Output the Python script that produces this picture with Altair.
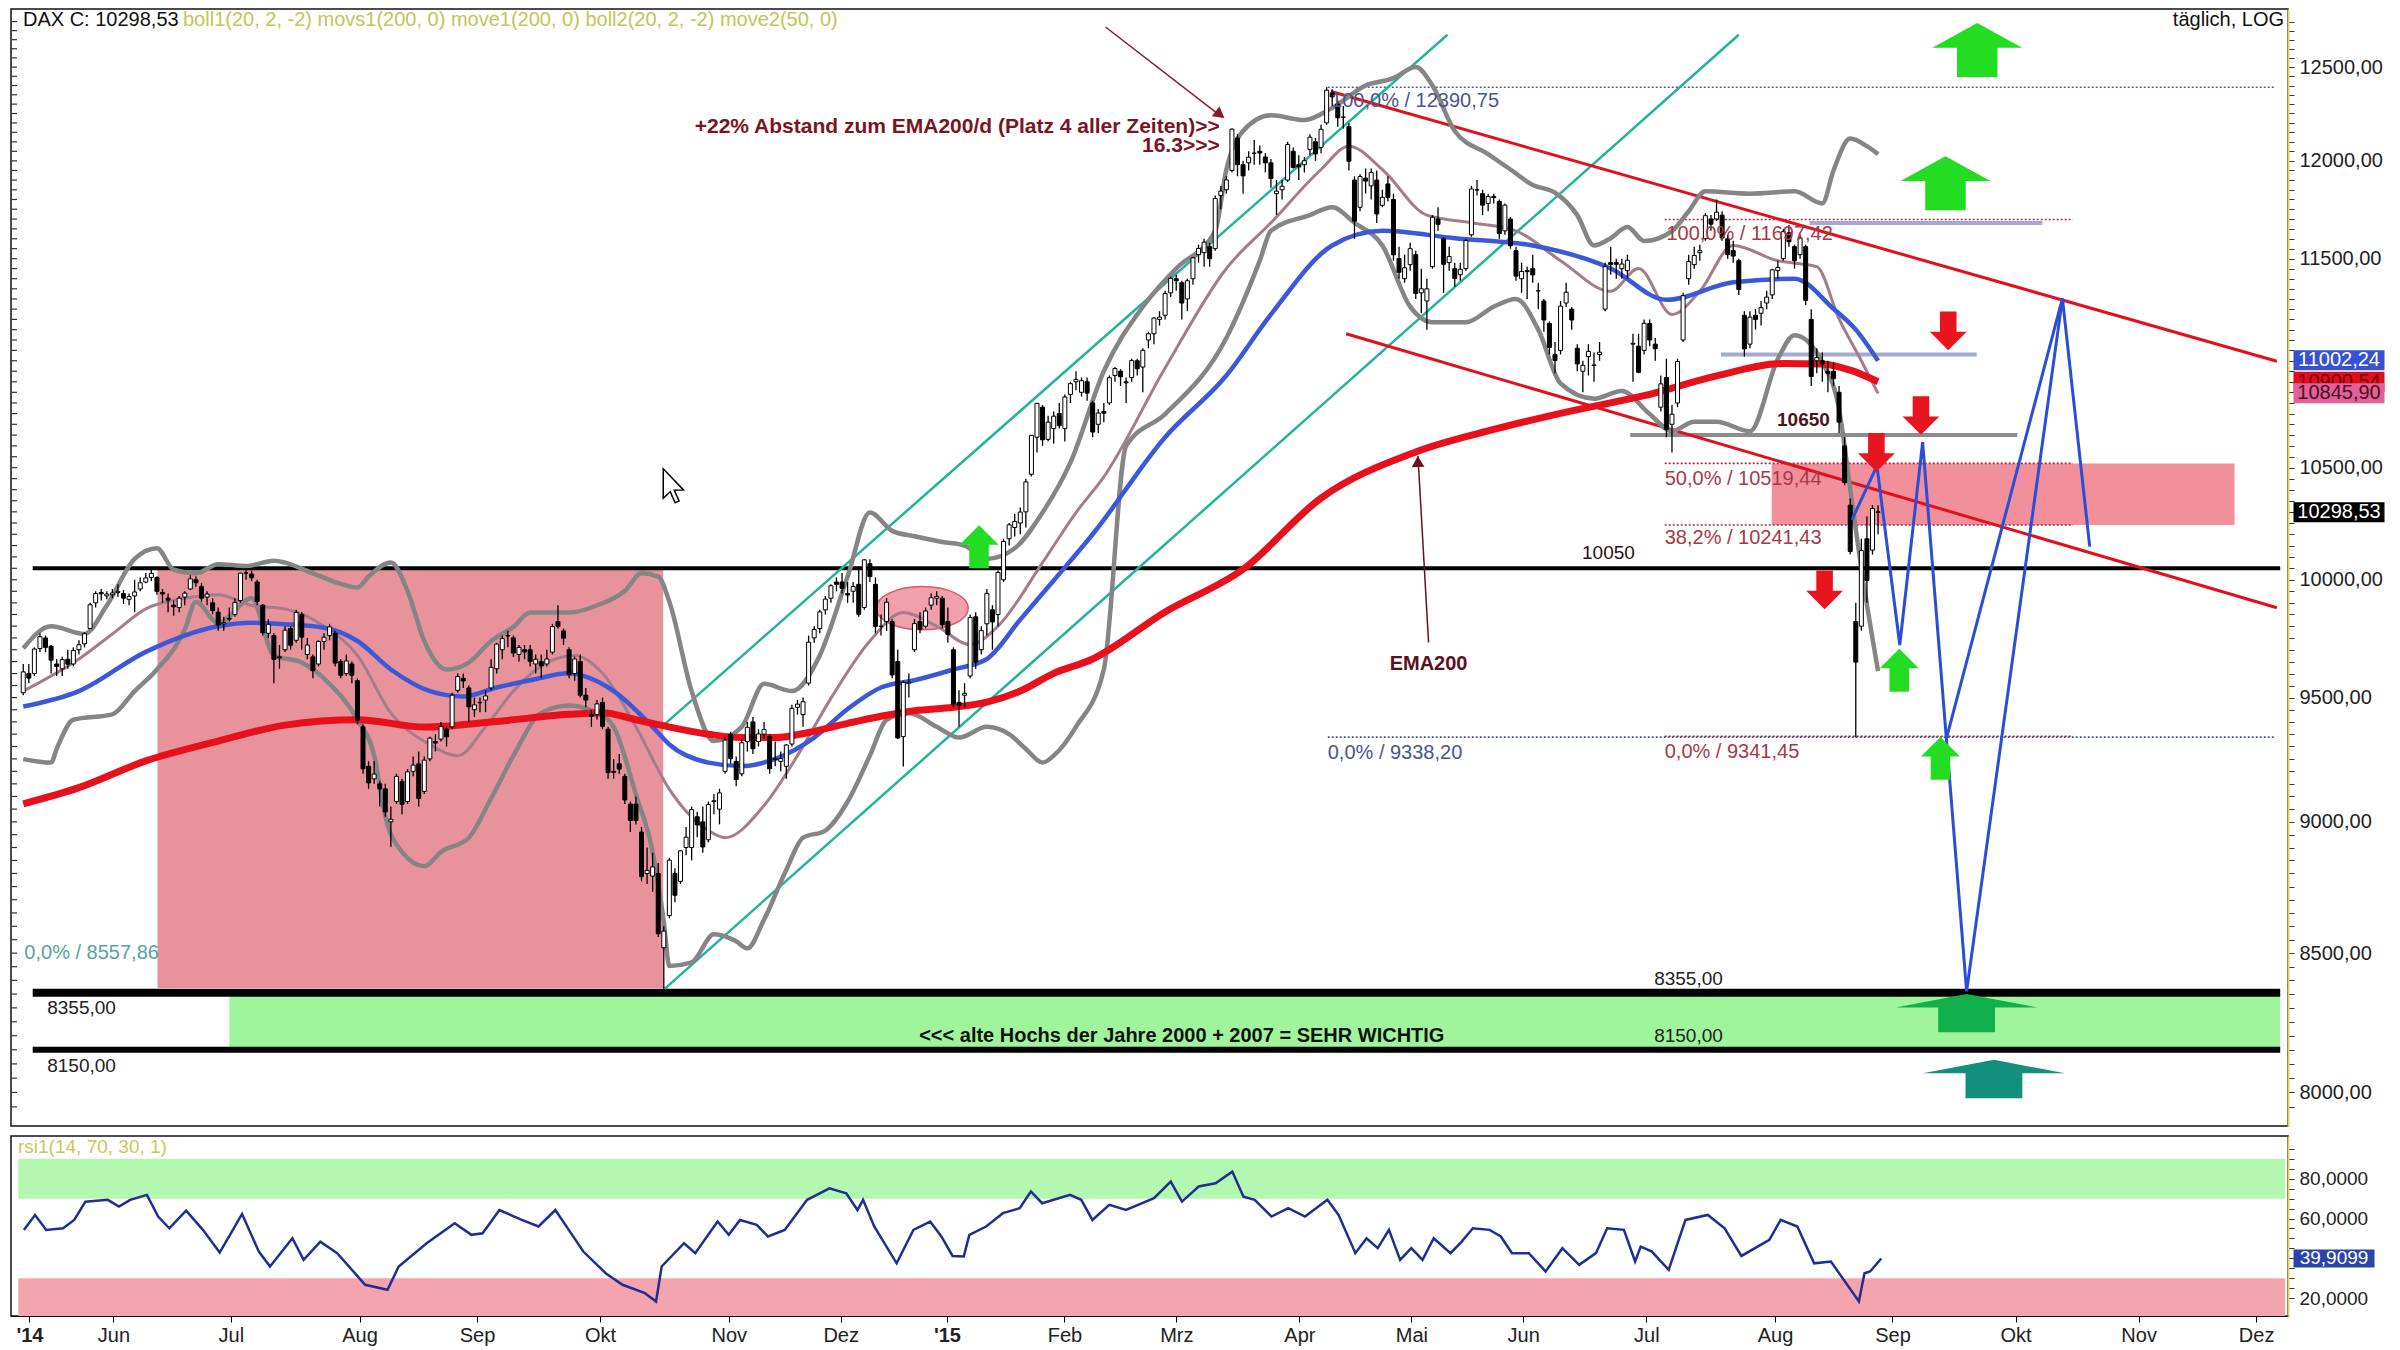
import json
import altair as alt
import pandas as pd

# ---------------- values ----------------
# daily candles, 8 May 2014 .. 28 Aug 2015 (trading-day index 0..333)
OPEN = [
 9520,9600,9600,9705,9750,9715,9640,9620,9660,9640,9700,9725,9790,9900,9945,9930,9935,
 9945,9940,9915,9930,9960,9990,10010,10010,9945,9920,9890,9880,9925,9960,10000,9970,9925,9900,9860,9810,9830,
 9850,9910,10030,10025,9990,9890,9770,9760,9670,9700,9790,9740,9850,9680,9670,9640,9735,9760,9770,9650,9600,9640,9570,
 9380,9220,9170,9150,9130,9000,9080,9160,9080,9200,9230,9120,9250,9320,9330,9370,9380,9530,9580,9540,9450,
 9480,9490,9540,9620,9700,9760,9750,9680,9700,9700,9640,9650,9640,9690,9820,9780,9700,9600,9650,9510,9430,9430,
 9480,9370,9200,9230,9180,9070,9070,8960,8800,8790,8800,8520,8640,8800,8770,8900,8900,9020,9000,8930,9080,9050,9200,
 9350,9240,9190,9320,9400,9320,9350,9340,9250,9240,9220,9310,9460,9430,9560,9750,9790,9870,9920,9990,
 9990,9940,9950,9980,9880,10070,9980,9800,9820,9820,9650,9340,9560,9700,9820,9800,9890,9920,9920,
 9820,9700,9480,9510,9590,9840,9700,9810,9870,9850,10000,10180,10230,10250,10300,10470,10640,10780,10630,10680,10750,
 10680,10840,10900,10850,10900,10800,10700,10760,10800,10930,10950,10900,10920,11000,10970,11100,11130,11200,11220,11330,
 11400,11380,11300,11400,11520,11530,11560,11550,11820,11850,11950,12120,11980,11990,12040,12050,12020,11990,11830,11850,11900,12050,
 11980,11980,12060,12100,12070,12200,12360,12300,12230,12180,11900,11760,11910,11870,11900,11770,11880,11800,11500,11400,
 11470,11520,11330,11290,11460,11700,11600,11480,11450,11420,11450,11620,11850,11830,11780,11815,11790,11640,11700,11540,
 11400,11440,11450,11340,11290,11180,11030,11050,11280,11250,11060,10950,11020,10980,11030,11250,11480,11480,11450,11440,11080,11070,
 11050,11180,11080,10780,10920,10700,10800,11100,11400,11470,11530,11600,11700,11700,11720,11600,11540,11490,11220,11080,11220,11230,11280,
 11320,11440,11500,11630,11560,11520,11560,11200,11000,11000,10950,10950,10850,10600,10330,9820,9800,10180,10130,10300]
HIGH = [
 9640,9640,9710,9770,9760,9720,9660,9670,9700,9710,9740,9775,9900,9950,9960,9950,9960,
 9980,9955,9940,10000,10010,10030,10050,10015,9960,9940,9910,9930,9950,10020,10015,9985,9950,9920,9880,9840,9880,
 9920,10030,10051,10040,10000,9895,9830,9770,9720,9800,9800,9870,9860,9750,9680,9740,9770,9810,9780,9660,9680,9650,9580,
 9390,9240,9240,9160,9150,9060,9190,9170,9210,9260,9280,9260,9340,9350,9400,9380,9520,9600,9600,9550,9500,
 9500,9530,9660,9730,9760,9780,9760,9720,9720,9720,9680,9680,9700,9810,9890,9790,9710,9670,9680,9540,9450,9490,
 9500,9380,9250,9270,9190,9080,9100,8980,8900,8880,8840,8600,8860,8820,8890,8980,9060,9040,9060,9080,9110,9130,9340,
 9360,9260,9330,9400,9420,9370,9400,9350,9320,9280,9310,9470,9490,9500,9760,9800,9870,9930,9980,10010,
 10030,9990,9990,10060,10090,10090,10010,9850,9920,9830,9700,9570,9600,9830,9860,9880,9940,9950,9930,
 9880,9710,9530,9560,9850,9860,9800,9960,9890,10040,10180,10250,10290,10320,10450,10650,10800,10790,10740,10760,10800,
 10840,10900,10950,10920,10920,10810,10770,10800,10930,10970,10960,10920,11010,11010,11060,11140,11210,11240,11340,11410,
 11420,11390,11400,11510,11570,11600,11580,11820,11870,11920,12170,12140,12000,12050,12110,12080,12040,12010,11900,11900,12100,12070,
 12030,12020,12140,12120,12190,12391,12380,12320,12290,12200,11920,11930,11960,11960,11950,11850,11920,11830,11560,11520,
 11580,11540,11450,11400,11720,11760,11610,11560,11480,11480,11600,11870,11900,11850,11830,11830,11800,11780,11710,11560,
 11480,11460,11520,11380,11300,11190,11090,11290,11380,11260,11080,11000,11080,11040,11090,11480,11560,11500,11500,11520,11130,11130,
 11200,11200,11110,10930,11010,10790,11010,11330,11520,11560,11570,11730,11720,11800,11740,11620,11590,11500,11240,11240,11250,11290,11340,
 11450,11490,11650,11670,11570,11620,11570,11250,11060,11040,11000,10990,10880,10640,10360,9900,10180,10280,10330,10330]
LOW = [
 9510,9560,9590,9690,9690,9600,9590,9590,9620,9630,9680,9710,9790,9880,9910,9915,9920,
 9925,9895,9890,9860,9950,9985,9995,9935,9900,9860,9845,9860,9890,9955,9970,9905,9890,9850,9780,9780,9820,
 9840,9900,10000,9995,9890,9760,9750,9560,9620,9690,9700,9730,9700,9660,9580,9630,9700,9740,9630,9580,9590,9560,9390,
 9190,9130,9150,9060,9020,8903,9070,9030,9070,9180,9060,9110,9240,9280,9320,9300,9370,9520,9540,9400,9420,
 9440,9440,9530,9600,9660,9710,9670,9650,9660,9630,9600,9580,9630,9680,9790,9720,9580,9570,9500,9460,9380,9410,
 9370,9170,9170,9190,9070,8960,8990,8770,8760,8730,8560,8355,8630,8690,8760,8870,8850,8940,8880,8920,9030,8990,9190,
 9230,9140,9180,9280,9270,9300,9330,9190,9220,9200,9170,9300,9430,9380,9550,9730,9770,9850,9900,9950,
 9940,9900,9900,9840,9870,9990,9770,9760,9780,9580,9330,9219,9500,9690,9770,9790,9870,9890,9790,
 9730,9460,9380,9460,9580,9620,9680,9760,9700,9800,9990,10150,10190,10200,10230,10460,10570,10600,10620,10610,10680,
 10620,10800,10860,10830,10810,10640,10660,10710,10790,10900,10880,10800,10900,10930,10850,11060,11080,11170,11200,11310,
 11340,11200,11240,11370,11480,11460,11460,11540,11750,11830,11940,11920,11830,11950,11980,11980,11940,11860,11720,11800,11890,11960,
 11900,11940,12030,12000,12040,12190,12290,12180,12170,11950,11600,11740,11830,11800,11680,11760,11790,11490,11400,11380,
 11440,11300,11230,11150,11450,11640,11330,11440,11360,11390,11440,11610,11820,11720,11740,11780,11600,11620,11550,11390,
 11330,11300,11380,11250,11140,11030,10940,11030,11260,11150,10950,10850,10930,10900,11000,11240,11420,11400,11400,11400,10900,10940,
 11030,11070,11000,10760,10640,10570,10780,11090,11370,11450,11490,11590,11640,11690,11590,11500,11480,11320,11020,11060,11150,11170,11250,
 11300,11400,11490,11560,11450,11500,11270,10880,10940,10900,10850,10880,10660,10420,10110,9338,9780,9900,10110,10200]
CLOSE = [
 9607,9581,9703,9755,9710,9656,9630,9659,9639,9697,9721,9768,9892,9940,9939,9938,9943,
 9950,9920,9927,9947,9987,10008,10028,9950,9938,9912,9883,9920,9942,10004,9987,9920,9938,9867,9805,9815,9833,
 9902,10029,10029,10009,9906,9772,9808,9659,9666,9783,9719,9859,9753,9720,9612,9735,9753,9797,9644,9593,9653,9593,9407,
 9210,9154,9189,9130,9039,9010,9180,9069,9198,9225,9092,9245,9334,9314,9381,9339,9510,9588,9569,9462,9470,
 9479,9507,9626,9724,9747,9758,9686,9710,9691,9651,9660,9632,9661,9798,9799,9749,9595,9661,9510,9490,9422,9474,
 9382,9195,9196,9209,9086,9005,9005,8788,8812,8825,8572,8582,8851,8717,8887,8940,9048,8988,8902,9068,9083,9114,9326,
 9251,9167,9315,9378,9291,9351,9369,9210,9248,9252,9306,9456,9473,9483,9732,9786,9861,9916,9974,9980,
 9963,9934,9971,9851,10087,10014,9799,9799,9903,9594,9335,9563,9564,9811,9787,9865,9922,9928,9806,
 9765,9473,9469,9518,9837,9648,9781,9941,9818,10032,10168,10242,10257,10299,10435,10649,10798,10628,10710,10738,10694,
 10828,10891,10911,10905,10846,10664,10753,10752,10919,10963,10924,10895,11001,10962,11050,11130,11206,11211,11327,11402,
 11390,11280,11390,11504,11551,11583,11500,11805,11843,11901,12167,11980,11922,12019,12040,12041,11990,11908,11843,11868,12086,11966,
 11968,12001,12124,12036,12166,12375,12339,12227,12231,11998,11689,11918,11895,11939,11726,11811,11811,11519,11432,11454,
 11550,11327,11350,11350,11709,11673,11472,11511,11401,11447,11591,11854,11849,11771,11815,11810,11626,11771,11565,11413,
 11436,11435,11419,11340,11197,11064,11001,11265,11333,11197,10985,10978,11045,10978,11041,11460,11471,11472,11473,11492,11084,10945,
 11181,11100,11058,10890,10676,10747,10997,11316,11485,11516,11540,11717,11674,11735,11604,11520,11513,11347,11057,11211,11199,11257,11309,
 11444,11456,11636,11585,11490,11604,11293,10925,11015,10985,10940,10915,10710,10432,10124,9648,10128,9997,10315,10298]

# indicator lines (trading-day index, value)
EMA200_X = [0,10,22,35,47,60,72,85,98,104,110,116,123,129,135,141,148,154,160,167,173,179,185,192,205,219,233,250,264,278,291,304,316,323,328,333]
EMA200_V = [9071,9135,9242,9322,9387,9409,9379,9402,9431,9438,9409,9379,9350,9336,9336,9357,9394,9423,9446,9460,9481,9527,9601,9661,9861,10046,10362,10572,10676,10763,10834,10928,10987,10985,10955,10900]
EMA50_X = [0,10,22,35,41,47,54,60,66,73,79,85,91,98,101,106,113,116,123,129,135,142,148,154,160,167,173,179,185,192,205,216,224,235,244,257,271,285,295,307,318,325,329,333]
EMA50_V = [9463,9527,9691,9800,9815,9808,9793,9737,9617,9527,9505,9542,9572,9601,9587,9527,9380,9308,9235,9221,9250,9336,9453,9542,9572,9617,9661,9828,9997,10200,10640,10930,11224,11566,11640,11603,11566,11451,11296,11382,11400,11252,11150,11000]
SMA20_X = [0,10,16,22,29,35,41,47,54,60,66,73,78,83,88,94,99,104,110,116,123,126,133,139,145,152,158,164,170,175,183,189,194,205,216,224,233,238,244,252,260,268,276,285,290,296,301,307,315,318,322,326,330,333]
SMA20_V = [9527,9661,9767,9874,9920,9935,9889,9874,9800,9676,9437,9308,9263,9380,9527,9646,9676,9601,9380,9128,8966,8938,9064,9263,9497,9737,9858,9800,9722,9800,10075,10297,10458,10965,11451,11681,11955,12077,11955,11720,11681,11640,11490,11338,11451,11224,11338,11566,11490,11478,11460,11202,11000,10845]
BBU_X = [0,5,11,15,20,24,27,31,35,40,45,47,52,57,60,62,66,69,72,76,80,84,88,91,98,103,108,111,114,116,120,124,129,133,138,143,148,152,156,160,165,169,173,178,183,188,194,201,207,214,216,219,224,230,235,241,246,250,253,257,263,267,271,275,279,282,285,288,291,296,299,302,310,318,323,325,328,331,333]
BBU_V = [9706,9800,9767,9889,10091,10138,10044,10028,10068,10060,10083,10075,10028,9982,9966,10014,10075,9951,9737,9617,9646,9737,9797,9858,9858,9889,9951,10028,10014,9905,9527,9322,9380,9557,9527,9676,10014,10297,10215,10191,10166,10150,10091,10138,10297,10523,10950,11262,11451,11640,11955,12157,12240,12215,12280,12400,12440,12500,12400,12157,12035,11955,11875,11835,11720,11566,11603,11659,11589,11639,11740,11842,11830,11842,11780,11950,12117,12077,12035]
BBL_X = [0,5,6,9,16,20,24,29,31,35,41,45,50,55,60,63,65,68,72,75,80,84,88,93,98,103,106,110,113,115,116,120,124,128,130,133,137,140,144,148,152,155,159,164,168,173,177,180,183,185,189,194,198,205,216,222,224,231,235,239,244,249,253,259,264,268,272,276,282,287,292,296,300,304,310,315,318,323,326,328,330,333]
BBL_V = [9249,9235,9290,9409,9431,9527,9617,9785,9905,9813,9920,9676,9646,9557,9409,9263,9022,8883,8828,8883,8938,9093,9263,9437,9467,9437,9380,9107,8883,8617,8453,8466,8570,8544,8518,8625,8814,8938,8966,9079,9263,9409,9437,9380,9336,9380,9350,9290,9235,9263,9380,9617,10600,10748,11110,11490,11640,11720,11760,11681,11566,11262,11186,11186,11262,11300,11150,10892,10820,10856,10748,10668,10712,10712,10668,11008,11123,10992,10770,10403,10048,9610]
RSI_X = [1,3,5,8,10,12,16,18,20,23,25,27,30,33,36,38,40,43,45,49,51,54,57,62,66,68,73,78,81,83,86,90,93,96,99,101,105,108,112,114,115,119,121,125,127,129,132,134,137,141,145,148,150,151,153,157,160,163,165,167,169,170,173,176,179,181,183,188,190,192,195,198,203,206,208,211,214,217,219,221,224,227,230,234,236,239,241,243,245,247,249,251,253,256,258,260,263,265,267,270,273,276,279,282,284,287,289,290,292,295,298,302,305,308,313,315,318,321,324,329,330,331,333]
RSI_V = [54.3,61.8,54.3,55.1,59.3,68.5,69.4,66,69.4,71.9,61,55.1,64,54.3,42.9,52.6,62.3,43.4,35.9,50.1,39.2,48.4,42.6,26.7,24.2,35.9,47.6,57.6,51.8,52.6,64.3,59.3,56,64.3,51.8,43.4,32.5,26.7,22.5,18.3,35.9,47.6,42.6,58.5,51.8,59.3,56.8,51,54.3,69.4,75.2,72.7,64.3,69.4,56,37.5,54.3,58.5,51,41.2,40.9,51.8,56,62.7,65.2,73.6,67.7,71.9,69.4,59.3,66.9,64.3,70.2,78.6,68.5,76.1,77.7,83.6,71,69.4,61,65.2,61,69.4,61.8,42.6,50.1,45.1,54.3,39.2,45.1,39.2,50.1,42.6,48.4,55.1,54.3,51,42.6,42.6,33.4,45.1,36.7,42.6,55.1,54.3,38.4,45.9,43.4,34.2,59.3,61.8,55.1,41.2,49.3,59.3,56,37.5,38.4,18.3,32.5,33.4,39.9]

# drawn projection (blue zig-zag)
ZIGZAG_X = [328.3, 332.8, 336.9, 341.0, 348.9, 366.1, 371.0]
ZIGZAG_V = [10264, 10508, 9720, 10617, 8360, 11303, 10145]
ZIGZAG2_X = [345.3, 366.1]
ZIGZAG2_V = [9335, 11303]

# horizontal levels
FIB_MAIN = [12390.75, 9338.20]
FIB_AUG = [11697.42, 10519.44, 10241.43, 9341.45]
SUPPORT = [10050, 8355, 8150]
LAST_VALUES = [11002.24, 10900.54, 10845.90, 10298.53]
RSI_LAST = 39.9099

HOLIDAYS = ["2014-12-24", "2014-12-25", "2014-12-26", "2014-12-31", "2015-01-01",
            "2015-04-03", "2015-04-06", "2015-05-01", "2015-12-24", "2015-12-25"]
MONTHS = {1: "'15", 2: "Feb", 3: "Mrz", 4: "Apr", 5: "Mai", 6: "Jun", 7: "Jul",
          8: "Aug", 9: "Sep", 10: "Okt", 11: "Nov", 12: "Dez"}

# ---------------- trading calendar / axis ticks ----------------
cal = pd.bdate_range("2014-05-08", "2015-12-11")
cal = cal[~cal.isin(pd.to_datetime(HOLIDAYS))]
TICK_IDX, TICK_LAB = [2], ["'14"]
for k in range(1, len(cal)):
    if cal[k].month != cal[k - 1].month:
        TICK_IDX.append(int(k))
        TICK_LAB.append(MONTHS[cal[k].month])
YEAR_TICKS = [TICK_IDX[0]] + [TICK_IDX[j] for j, t in enumerate(TICK_LAB) if t == "'15"]

# ---------------- layout ----------------
W, H1, H2 = 2277, 1117, 180
FONT = "Liberation Sans"
XS = alt.Scale(domain=[-1.3, 405.7], nice=False, zero=False)
YS = alt.Scale(type="log", domain=[7884, 12820], nice=False)
RS = alt.Scale(domain=[11, 101.5], nice=False, zero=False)
Y_TICKS = list(range(7950, 12751, 50))

YAX = alt.Axis(orient="right", values=Y_TICKS, grid=False,
               labelExpr="datum.value % 500 == 0 && datum.value != 11000 ? replace(format(datum.value, '.2f'), '.', ',') : ''",
               tickSize=6, labelPadding=5, tickColor="#333333", domainColor="#e4d064", domainWidth=2,
               labelFontSize=20, labelColor="#222222", labelFont=FONT, labelOverlap=False, zindex=0, title=None)
RAX = alt.Axis(orient="right", values=list(range(20, 100, 5)), grid=False,
               labelExpr="datum.value % 20 == 0 ? replace(format(datum.value, '.4f'), '.', ',') : ''",
               tickSize=6, labelPadding=5, tickColor="#333333", domainColor="#e4d064", domainWidth=2,
               labelFontSize=19, labelColor="#222222", labelFont=FONT, labelOverlap=False, zindex=0, title=None)
XAX = alt.Axis(values=TICK_IDX, grid=False,
               labelExpr=f"{json.dumps(TICK_LAB)}[indexof({json.dumps(TICK_IDX)}, datum.value)]",
               tickSize=6, labelPadding=3, labelFontSize=20, labelColor="#222222", labelFont=FONT,
               tickColor="#000000", domainColor="#000000", labelOverlap=False,
               labelFontWeight={"condition": {"test": " || ".join(f"datum.value == {t}" for t in YEAR_TICKS),
                                               "value": "bold"}, "value": "normal"},
               title=None)


def X(f="i"):
    return alt.X(f"{f}:Q", scale=XS, axis=None, title=None)


def Y(f="v"):
    return alt.Y(f"{f}:Q", scale=YS, axis=YAX, title=None)


def segs(rows, color, width, dash=None, opacity=1.0):
    df = pd.DataFrame(rows, columns=["i", "v", "i2", "v2"])
    kw = dict(color=color, strokeWidth=width, opacity=opacity)
    if dash:
        kw["strokeDash"] = dash
    return alt.Chart(df).mark_rule(**kw).encode(x=X(), y=Y(), x2="i2:Q", y2="v2:Q")


def rects(rows, color, opacity=1.0):
    df = pd.DataFrame(rows, columns=["i", "v", "i2", "v2"])
    return alt.Chart(df).mark_rect(color=color, opacity=opacity).encode(x=X(), y=Y(), x2="i2:Q", y2="v2:Q")


def line(xs, vs, color, width, interp="monotone"):
    df = pd.DataFrame({"i": xs, "v": vs, "o": range(len(xs))})
    return alt.Chart(df).mark_line(color=color, strokeWidth=width, interpolate=interp).encode(
        x=X(), y=Y(), order="o:Q")


def pts(rows, shape, size, color, filled=True, sw=0.0, opacity=1.0, **kw):
    df = pd.DataFrame(rows, columns=["i", "v"])
    return alt.Chart(df).mark_point(shape=shape, size=size, filled=filled, color=color,
                                    strokeWidth=sw, opacity=opacity, **kw).encode(x=X(), y=Y())


def txt(i, v, s, color, size, weight="normal", align="left", baseline="middle"):
    df = pd.DataFrame({"i": [i], "v": [v], "t": [s]})
    return alt.Chart(df).mark_text(align=align, baseline=baseline, fontSize=size, fontWeight=weight,
                                   color=color, font=FONT).encode(x=X(), y=Y(), text="t:N")


UP_SMALL = "M0,-1.1L1,-0.1L0.5,-0.1L0.5,1.1L-0.5,1.1L-0.5,-0.1L-1,-0.1Z"
DOWN_SMALL = "M0,1.05L1,0.05L0.45,0.05L0.45,-1.05L-0.45,-1.05L-0.45,0.05L-1,0.05Z"
UP_BIG = "M0,-0.6L1,-0.05L0.45,-0.05L0.45,0.6L-0.45,0.6L-0.45,-0.05L-1,-0.05Z"
UP_FLAT = "M0,-0.27L1,-0.08L0.4,-0.08L0.4,0.27L-0.4,0.27L-0.4,-0.08L-1,-0.08Z"
ELLIPSE = "M-1,0A1,0.47,0,1,0,1,0A1,0.47,0,1,0,-1,0Z"
BOX = "M-1,-0.22L1,-0.22L1,0.22L-1,0.22Z"
CURSOR = "M0,0L0,1.6L0.38,1.25L0.65,1.85L0.86,1.75L0.6,1.17L1.1,1.15Z"

candles = pd.DataFrame({"i": range(len(CLOSE)), "o": OPEN, "h": HIGH, "l": LOW, "c": CLOSE})

L = []
# background zones
L.append(rects([(24.1, SUPPORT[0], 114.9, 8372)], "#e8939c"))
L.append(rects([(37, SUPPORT[1], 405.2, SUPPORT[2])], "#a0f59c"))
L.append(rects([(313.9, FIB_AUG[1], 397, FIB_AUG[2])], "#f08a95", 0.95))
L.append(pts([(161.4, 9877)], ELLIPSE, 8464, "#ee8f9c", opacity=0.85))
L.append(pts([(161.4, 9877)], ELLIPSE, 8464, "#d85a70", filled=False, sw=1.5))
# horizontal levels
L.append(segs([(1.7, SUPPORT[0], 405.2, SUPPORT[0])], "#000000", 4))
L.append(segs([(1.7, SUPPORT[1], 405.2, SUPPORT[1])], "#000000", 8))
L.append(segs([(1.7, SUPPORT[2], 405.2, SUPPORT[2])], "#000000", 6))
L.append(segs([(234.2, v, 404.4, v) for v in FIB_MAIN], "#4a56a0", 1.6, dash=[2, 2]))
L.append(segs([(294.7, v, 368, v) for v in FIB_AUG], "#a03040", 1.6, dash=[2, 2]))
L.append(segs([(320.7, 11680, 362.5, 11680), (304.8, 11030, 350.7, 11030)], "#a3a9cf", 4))
L.append(segs([(288.5, 10650, 358, 10650)], "#8c8c8c", 4))
# trend channels
L.append(segs([(114.6, 9380, 255.7, 12677), (115.1, 8368, 308, 12677)], "#22b39b", 2.5))
L.append(segs([(234.8, 12368, 404.6, 10998), (237.5, 11130, 404.6, 9879)], "#e0101c", 3))
# indicators
L.append(line(BBU_X, BBU_V, "#858585", 4.5))
L.append(line(BBL_X, BBL_V, "#858585", 4.5))
L.append(line(SMA20_X, SMA20_V, "#a47c8c", 3))
L.append(line(EMA50_X, EMA50_V, "#3a58d8", 4.5))
L.append(line(EMA200_X, EMA200_V, "#e8101a", 7))
# candles
L.append(alt.Chart(candles).mark_rule(color="black", strokeWidth=1.3).encode(x=X(), y=Y("l"), y2="h:Q"))
L.append(alt.Chart(candles).mark_bar(width=4, stroke="black", strokeWidth=1).encode(
    x=X(), y=Y("o"), y2="c:Q",
    color=alt.condition("datum.c >= datum.o", alt.value("white"), alt.value("black"))))
# projection
L.append(line(ZIGZAG_X, ZIGZAG_V, "#2a4fd6", 3, interp="linear"))
L.append(line(ZIGZAG2_X, ZIGZAG2_V, "#2a4fd6", 3, interp="linear"))
# arrows
L.append(pts([(336.8, 9614), (344.2, 9252), (171.6, 10145)], UP_SMALL, 1521, "#22dd22"))
L.append(pts([(345.6, 11144), (340.7, 10741), (332.7, 10570), (323.4, 9956)], DOWN_SMALL, 1354, "#e8141e"))
L.append(pts([(350.8, 12593), (345.1, 11884)], UP_BIG, 8100, "#22dd22"))
L.append(pts([(348.9, 8281)], UP_FLAT, 20164, "#12b04c"))
L.append(pts([(353.8, 8047)], UP_FLAT, 20164, "#138f7d"))
# annotation arrows
L.append(segs([(194.3, 12720, 215.3, 12229)], "#8a1a2a", 1.5))
L.append(pts([(214.6, 12250)], "triangle", 160, "#8a1a2a", angle=127))
L.append(segs([(252.3, 9731, 250.4, 10553)], "#6a1020", 1.5))
L.append(pts([(250.4, 10520)], "triangle", 160, "#6a1020", angle=358))
# texts
L.append(txt(284.6, 10075, "10050", "#2a1018", 19, "normal", "center", "bottom"))
L.append(txt(319.6, 10672, "10650", "#4a1420", 19, "bold", "center", "bottom"))
L.append(txt(234.8, 12319, "100,0% / 12390,75", "#4b5590", 20))
L.append(txt(234.2, 9272, "0,0% / 9338,20", "#4b5590", 20))
L.append(txt(295.0, 11625, "100,0% / 11697,42", "#a8384a", 20))
L.append(txt(294.7, 10449, "50,0% / 10519,44", "#a8384a", 20))
L.append(txt(294.7, 10182, "38,2% / 10241,43", "#a8384a", 20))
L.append(txt(294.7, 9278, "0,0% / 9341,45", "#a8384a", 20))
L.append(txt(0.2, 8499, "0,0% / 8557,86", "#5aa2a2", 20))
L.append(txt(4.3, 8298, "8355,00", "#222222", 19))
L.append(txt(4.3, 8091, "8150,00", "#222222", 19))
L.append(txt(292.8, 8405, "8355,00", "#222222", 19))
L.append(txt(292.8, 8199, "8150,00", "#222222", 19))
L.append(txt(208, 8199, "<<< alte Hochs der Jahre 2000 + 2007 = SEHR WICHTIG", "#111111", 20, "bold", "center"))
L.append(txt(214.8, 12180, "+22% Abstand zum EMA200/d (Platz 4 aller Zeiten)>>", "#7a1424", 21, "bold", "right"))
L.append(txt(214.8, 12080, "16.3>>>", "#7a1424", 21, "bold", "right"))
L.append(txt(252.3, 9642, "EMA200", "#5a1020", 20, "bold", "center"))
# mouse pointer
L.append(pts([(114.9, 10495)], CURSOR, 1354, "white", sw=1.5, fill="white", stroke="black"))


def value_box(v, bg, fg, label, scaleY, xpx, size, fs):
    df = pd.DataFrame({"v": [v], "t": [label]})
    b = alt.Chart(df).mark_point(shape=BOX, size=size, filled=True, color=bg, strokeWidth=0, opacity=1).encode(
        x=alt.value(xpx), y=scaleY)
    t = alt.Chart(df).mark_text(align="center", baseline="middle", fontSize=fs, color=fg, font=FONT).encode(
        x=alt.value(xpx), y=scaleY, text="t:N")
    return [b, t]


for v, bg, fg in [(LAST_VALUES[1], "#e0101a", "#7a0010"), (LAST_VALUES[2], "#e2609a", "#4a1020"),
                  (LAST_VALUES[0], "#3652d0", "#ffffff"), (LAST_VALUES[3], "#000000", "#ffffff")]:
    L += value_box(v, bg, fg, f"{v:.2f}".replace(".", ","), Y(), W + 51, 8281, 20)

# left edge ticks
L.append(alt.Chart(pd.DataFrame({"v": Y_TICKS})).mark_rule(
    color="#333333", strokeWidth=1.2).encode(x=alt.value(0), x2=alt.value(6), y=Y()))
# header
L.append(alt.Chart(pd.DataFrame({"t": ["DAX C: 10298,53"]}))
         .mark_text(align="left", baseline="top", fontSize=20, color="#111111", font=FONT)
         .encode(x=alt.value(12), y=alt.value(1), text="t:N"))
L.append(alt.Chart(pd.DataFrame({"t": ["boll1(20, 2, -2) movs1(200, 0) move1(200, 0) boll2(20, 2, -2) move2(50, 0)"]}))
         .mark_text(align="left", baseline="top", fontSize=20, color="#c2c558", font=FONT)
         .encode(x=alt.value(172), y=alt.value(1), text="t:N"))
L.append(alt.Chart(pd.DataFrame({"t": ["täglich, LOG"]}))
         .mark_text(align="right", baseline="top", fontSize=20, color="#111111", font=FONT)
         .encode(x=alt.value(W - 4), y=alt.value(1), text="t:N"))

main = alt.layer(*L).properties(width=W, height=H1)

# ---------------- RSI panel ----------------
RX = alt.X("i:Q", scale=XS, axis=XAX, title=None)
RY = alt.Y("r:Q", scale=RS, axis=RAX, title=None)
bands = pd.DataFrame({"i": [0.0, 0.0], "i2": [405.2, 405.2], "r": [70, 11], "r2": [90, 30],
                      "k": ["ob", "os"]})
R = []
R.append(alt.Chart(bands).mark_rect().encode(
    x=RX, x2="i2:Q", y=RY, y2="r2:Q",
    color=alt.Color("k:N", scale=alt.Scale(domain=["ob", "os"], range=["#b4f7b0", "#f4a4ae"]), legend=None)))
R.append(alt.Chart(pd.DataFrame({"i": RSI_X, "r": RSI_V})).mark_line(color="#1e2f8f", strokeWidth=2.5).encode(
    x=RX, y=RY))
rl = pd.DataFrame({"r": [RSI_LAST], "t": [f"{RSI_LAST:.4f}".replace(".", ",")]})
R.append(alt.Chart(rl).mark_point(shape=BOX, size=6561, filled=True, color="#2846a8", strokeWidth=0, opacity=1)
         .encode(x=alt.value(W + 46), y=RY))
R.append(alt.Chart(rl).mark_text(align="center", baseline="middle", fontSize=19, color="white", font=FONT)
         .encode(x=alt.value(W + 46), y=RY, text="t:N"))
R.append(alt.Chart(pd.DataFrame({"t": ["rsi1(14, 70, 30, 1)"]}))
         .mark_text(align="left", baseline="top", fontSize=19, color="#c8c85a", font=FONT)
         .encode(x=alt.value(7), y=alt.value(2), text="t:N"))
rsi = alt.layer(*R).properties(width=W, height=H2)

chart = (alt.vconcat(main, rsi, spacing=8)
         .properties(padding=0)
         .configure(font=FONT)
         .configure_view(stroke="#111111", strokeWidth=1.5))

chart.save("out.html", embed_options={"renderer": "svg", "actions": False})
